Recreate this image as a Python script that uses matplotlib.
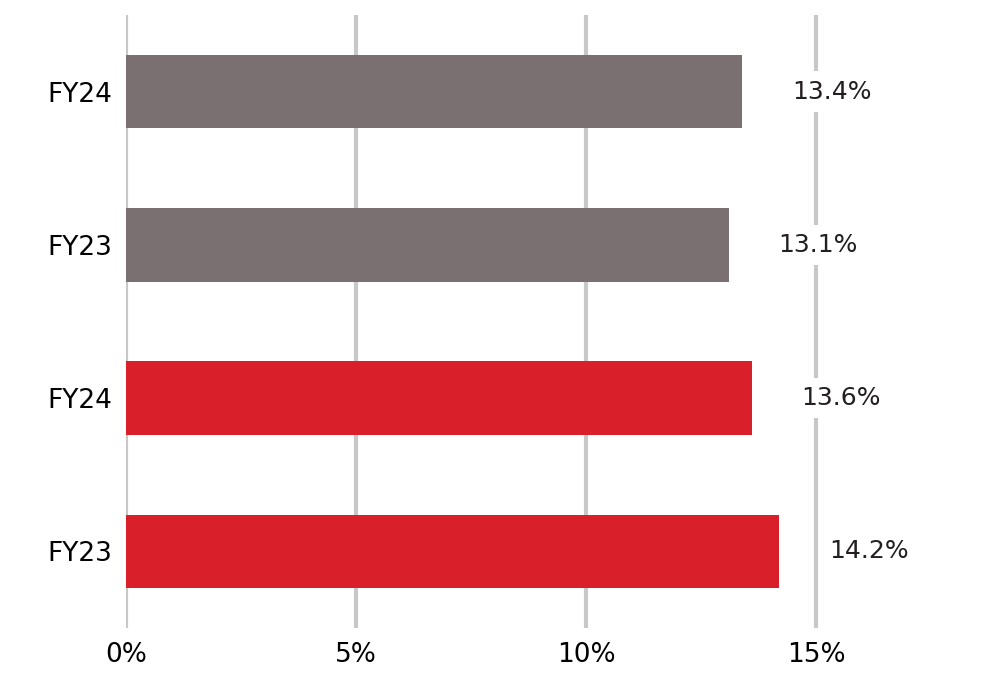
import matplotlib
matplotlib.use("Agg")
import matplotlib.pyplot as plt

labels = ["FY24", "FY23", "FY24", "FY23"]
values = [13.4, 13.1, 13.6, 14.2]
colors = ["#7a7071", "#7a7071", "#d91f2a", "#d91f2a"]
ticks = [0, 5, 10, 15]
tick_labels = ["0%", "5%", "10%", "15%"]

fig = plt.figure(figsize=(9.98, 6.75), dpi=100)
ax = fig.add_axes([126/998, 1-628/675, 1-126/998, 613/675])
ypos = list(range(len(values)))[::-1]
for t in ticks:
    ax.axvline(t, color="#c8c8c8", lw=3, zorder=0)
ax.barh(ypos, values, height=0.48, color=colors, zorder=2)
for y, v in zip(ypos, values):
    ax.text(v + 1.95, y, f"{v}%", ha="center", va="center", fontsize=18, color="#231f20",
            bbox=dict(facecolor="white", edgecolor="none", pad=6), zorder=3)
ax.set_xlim(0, 872/46)
ax.set_ylim(-0.5, 3.5)
ax.set_yticks(ypos)
ax.set_yticklabels(labels, fontsize=19)
ax.set_xticks(ticks)
ax.set_xticklabels(tick_labels, fontsize=19)
ax.tick_params(length=0, pad=10)
for s in ax.spines.values():
    s.set_visible(False)
fig.savefig("out.png", dpi=100)
